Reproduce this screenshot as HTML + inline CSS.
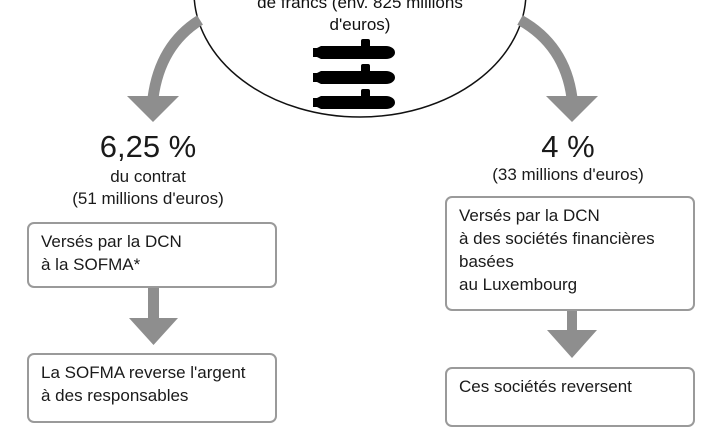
<!DOCTYPE html>
<html><head><meta charset="utf-8"><style>
body{margin:0;width:720px;height:405px;overflow:hidden;background:#fff;font-family:"Liberation Sans",sans-serif;color:#1a1a1a;position:relative}
.t{position:absolute;white-space:nowrap}
.box{position:absolute;border:2px solid #9a9a9a;border-radius:7px;background:#fff;box-sizing:border-box;padding:6px 0 0 12px;font-size:17px;line-height:23px}
</style></head><body>
<svg width="720" height="405" style="position:absolute;left:0;top:0">
<ellipse cx="360" cy="-8" rx="166" ry="125" fill="#fff" stroke="#111" stroke-width="1.5"/>
<path d="M200 20 Q160 45 153 98" fill="none" stroke="#8e8e8e" stroke-width="11"/>
<polygon points="127,96 179,96 153,122" fill="#8e8e8e"/>
<path d="M520 20 Q565 45 572 98" fill="none" stroke="#8e8e8e" stroke-width="11"/>
<polygon points="546,96 598,96 572,122" fill="#8e8e8e"/>
<rect x="148" y="287" width="11" height="33" fill="#8e8e8e"/>
<polygon points="129,318 178,318 153.5,345" fill="#8e8e8e"/>
<rect x="567" y="310" width="10" height="22" fill="#8e8e8e"/>
<polygon points="547,330 597,330 572,358" fill="#8e8e8e"/>
<g fill="#000">
<g id="s"><path d="M313 48 h4 l4 -2 h65 a9 6.5 0 0 1 0 13 h-65 l-4 -2 h-4 z"/><rect x="361" y="39" width="9" height="9" rx="2"/></g>
<use href="#s" y="25"/><use href="#s" y="50"/>
</g>
</svg>
<div class="t" style="left:240px;top:-8px;width:240px;text-align:center;font-size:17px;line-height:22px;color:#111">de francs (env. 825 millions<br>d'euros)</div>
<div class="t" style="left:48px;top:129px;width:200px;text-align:center;font-size:31px">6,25 %</div>
<div class="t" style="left:48px;top:166px;width:200px;text-align:center;font-size:17px;line-height:22px">du contrat<br>(51 millions d'euros)</div>
<div class="t" style="left:468px;top:129px;width:200px;text-align:center;font-size:31px">4 %</div>
<div class="t" style="left:468px;top:165px;width:200px;text-align:center;font-size:17px">(33 millions d'euros)</div>
<div class="box" style="left:27px;top:222px;width:250px;height:66px">Versés par la DCN<br>à la SOFMA*</div>
<div class="box" style="left:27px;top:353px;width:250px;height:70px">La SOFMA reverse l'argent<br>à des responsables</div>
<div class="box" style="left:445px;top:196px;width:250px;height:115px">Versés par la DCN<br>à des sociétés financières<br>basées<br>au Luxembourg</div>
<div class="box" style="left:445px;top:367px;width:250px;height:60px">Ces sociétés reversent</div>
</body></html>
